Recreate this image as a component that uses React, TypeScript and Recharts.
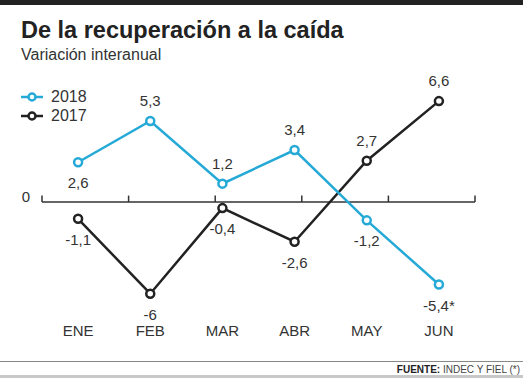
import { LineChart, Line, XAxis, YAxis, ReferenceLine, LabelList } from "recharts"

const months = ["ENE", "FEB", "MAR", "ABR", "MAY", "JUN"]
const values2018 = [2.6, 5.3, 1.2, 3.4, -1.2, -5.4]
const values2017 = [-1.1, -6, -0.4, -2.6, 2.7, 6.6]
const yTicks = [0]

const BLUE = "#25a9d6"
const DARK = "#222222"
const FONT = "'Liberation Sans', Arial, sans-serif"

const data = months.map((m, i) => ({ month: m, y2018: values2018[i], y2017: values2017[i] }))

// which points get their label below the marker
const below2018 = [0, 4, 5]
const below2017 = [0, 1, 2, 3]

const fmt = (v: number) => String(v).replace(".", ",")

const makeLabel = (below: number[], star: number) => (props: any) => {
  const { x, y, value, index } = props
  const under = below.includes(index)
  return (
    <text
      x={x}
      y={under ? y + 22 : y - 19}
      textAnchor="middle"
      dominantBaseline="middle"
      fontSize={15}
      fill="#333"
      fontFamily={FONT}
    >
      {fmt(value)}
      {index === star ? "*" : ""}
    </text>
  )
}

const LegendBox = () => (
  <div style={{ fontFamily: FONT, fontSize: 16, color: "#333", lineHeight: "19px" }}>
    {[
      { name: "2018", color: BLUE },
      { name: "2017", color: DARK },
    ].map((s) => (
      <div key={s.name} style={{ display: "flex", alignItems: "center" }}>
        <svg width={24} height={12} style={{ marginRight: 7 }}>
          <line x1={1} y1={6} x2={23} y2={6} stroke={s.color} strokeWidth={2.5} />
          <circle cx={12} cy={6} r={3.5} fill="#fff" stroke={s.color} strokeWidth={2.5} />
        </svg>
        {s.name}
      </div>
    ))}
  </div>
)

const App = () => {
  return (
    <div style={{ position: "absolute", left: 0, top: 0, width: 523, height: 378, background: "#fff", fontFamily: FONT }}>
      <div style={{ position: "absolute", left: 0, top: 0, width: 523, height: 5, background: DARK }} />
      <div style={{ position: "absolute", left: 21, top: 17, fontSize: 23.5, fontWeight: 700, color: "#222" }}>
        De la recuperación a la caída
      </div>
      <div style={{ position: "absolute", left: 21, top: 46, fontSize: 16, color: "#333" }}>
        Variación interanual
      </div>

      <div style={{ position: "absolute", left: 0, top: 0 }}>
        <LineChart width={523} height={378} data={data} margin={{ top: 95, right: 48, left: 8, bottom: 39 }}>
          <XAxis dataKey="month" scale="band" axisLine={false} tickLine={false} tickSize={0} tickMargin={16} height={30}
            tick={{ fontSize: 15, fill: "#333", fontFamily: FONT }} />
          <XAxis xAxisId="edges" type="number" domain={[0, months.length]} hide />
          <YAxis domain={[-7, 7]} ticks={yTicks} width={34} axisLine={false} tickLine={false} tickSize={0} tickMargin={12}
            tick={{ fontSize: 15, fill: "#333", fontFamily: FONT, dy: -5 }} />
          <ReferenceLine y={0} stroke="#333" strokeWidth={1.5} />
          {months.map((_, i) => i).concat([months.length]).map((i) => (
            <ReferenceLine key={i} xAxisId="edges" stroke="#333" strokeWidth={1.5}
              segment={[{ x: i, y: 0 }, { x: i, y: 0.42 }]} />
          ))}
          <Line dataKey="y2017" name="2017" stroke={DARK} strokeWidth={2.5} isAnimationActive={false}
            dot={{ r: 4, fill: "#fff", stroke: DARK, strokeWidth: 2.5 }}>
            <LabelList dataKey="y2017" content={makeLabel(below2017, -1)} />
          </Line>
          <Line dataKey="y2018" name="2018" stroke={BLUE} strokeWidth={2.5} isAnimationActive={false}
            dot={{ r: 4, fill: "#fff", stroke: BLUE, strokeWidth: 2.5 }}>
            <LabelList dataKey="y2018" content={makeLabel(below2018, 5)} />
          </Line>
        </LineChart>
      </div>

      <div style={{ position: "absolute", left: 20, top: 87 }}>
        <LegendBox />
      </div>

      <div style={{ position: "absolute", left: 0, top: 361, width: 523, height: 1, background: "#888" }} />
      <div style={{ position: "absolute", right: 3, top: 364, fontSize: 10, color: "#444" }}>
        <b style={{ color: "#222" }}>FUENTE:</b> INDEC Y FIEL (*)
      </div>
      <div style={{ position: "absolute", left: 0, top: 375, width: 523, height: 3, background: "#c8c8c8" }} />
    </div>
  )
}

export default App
